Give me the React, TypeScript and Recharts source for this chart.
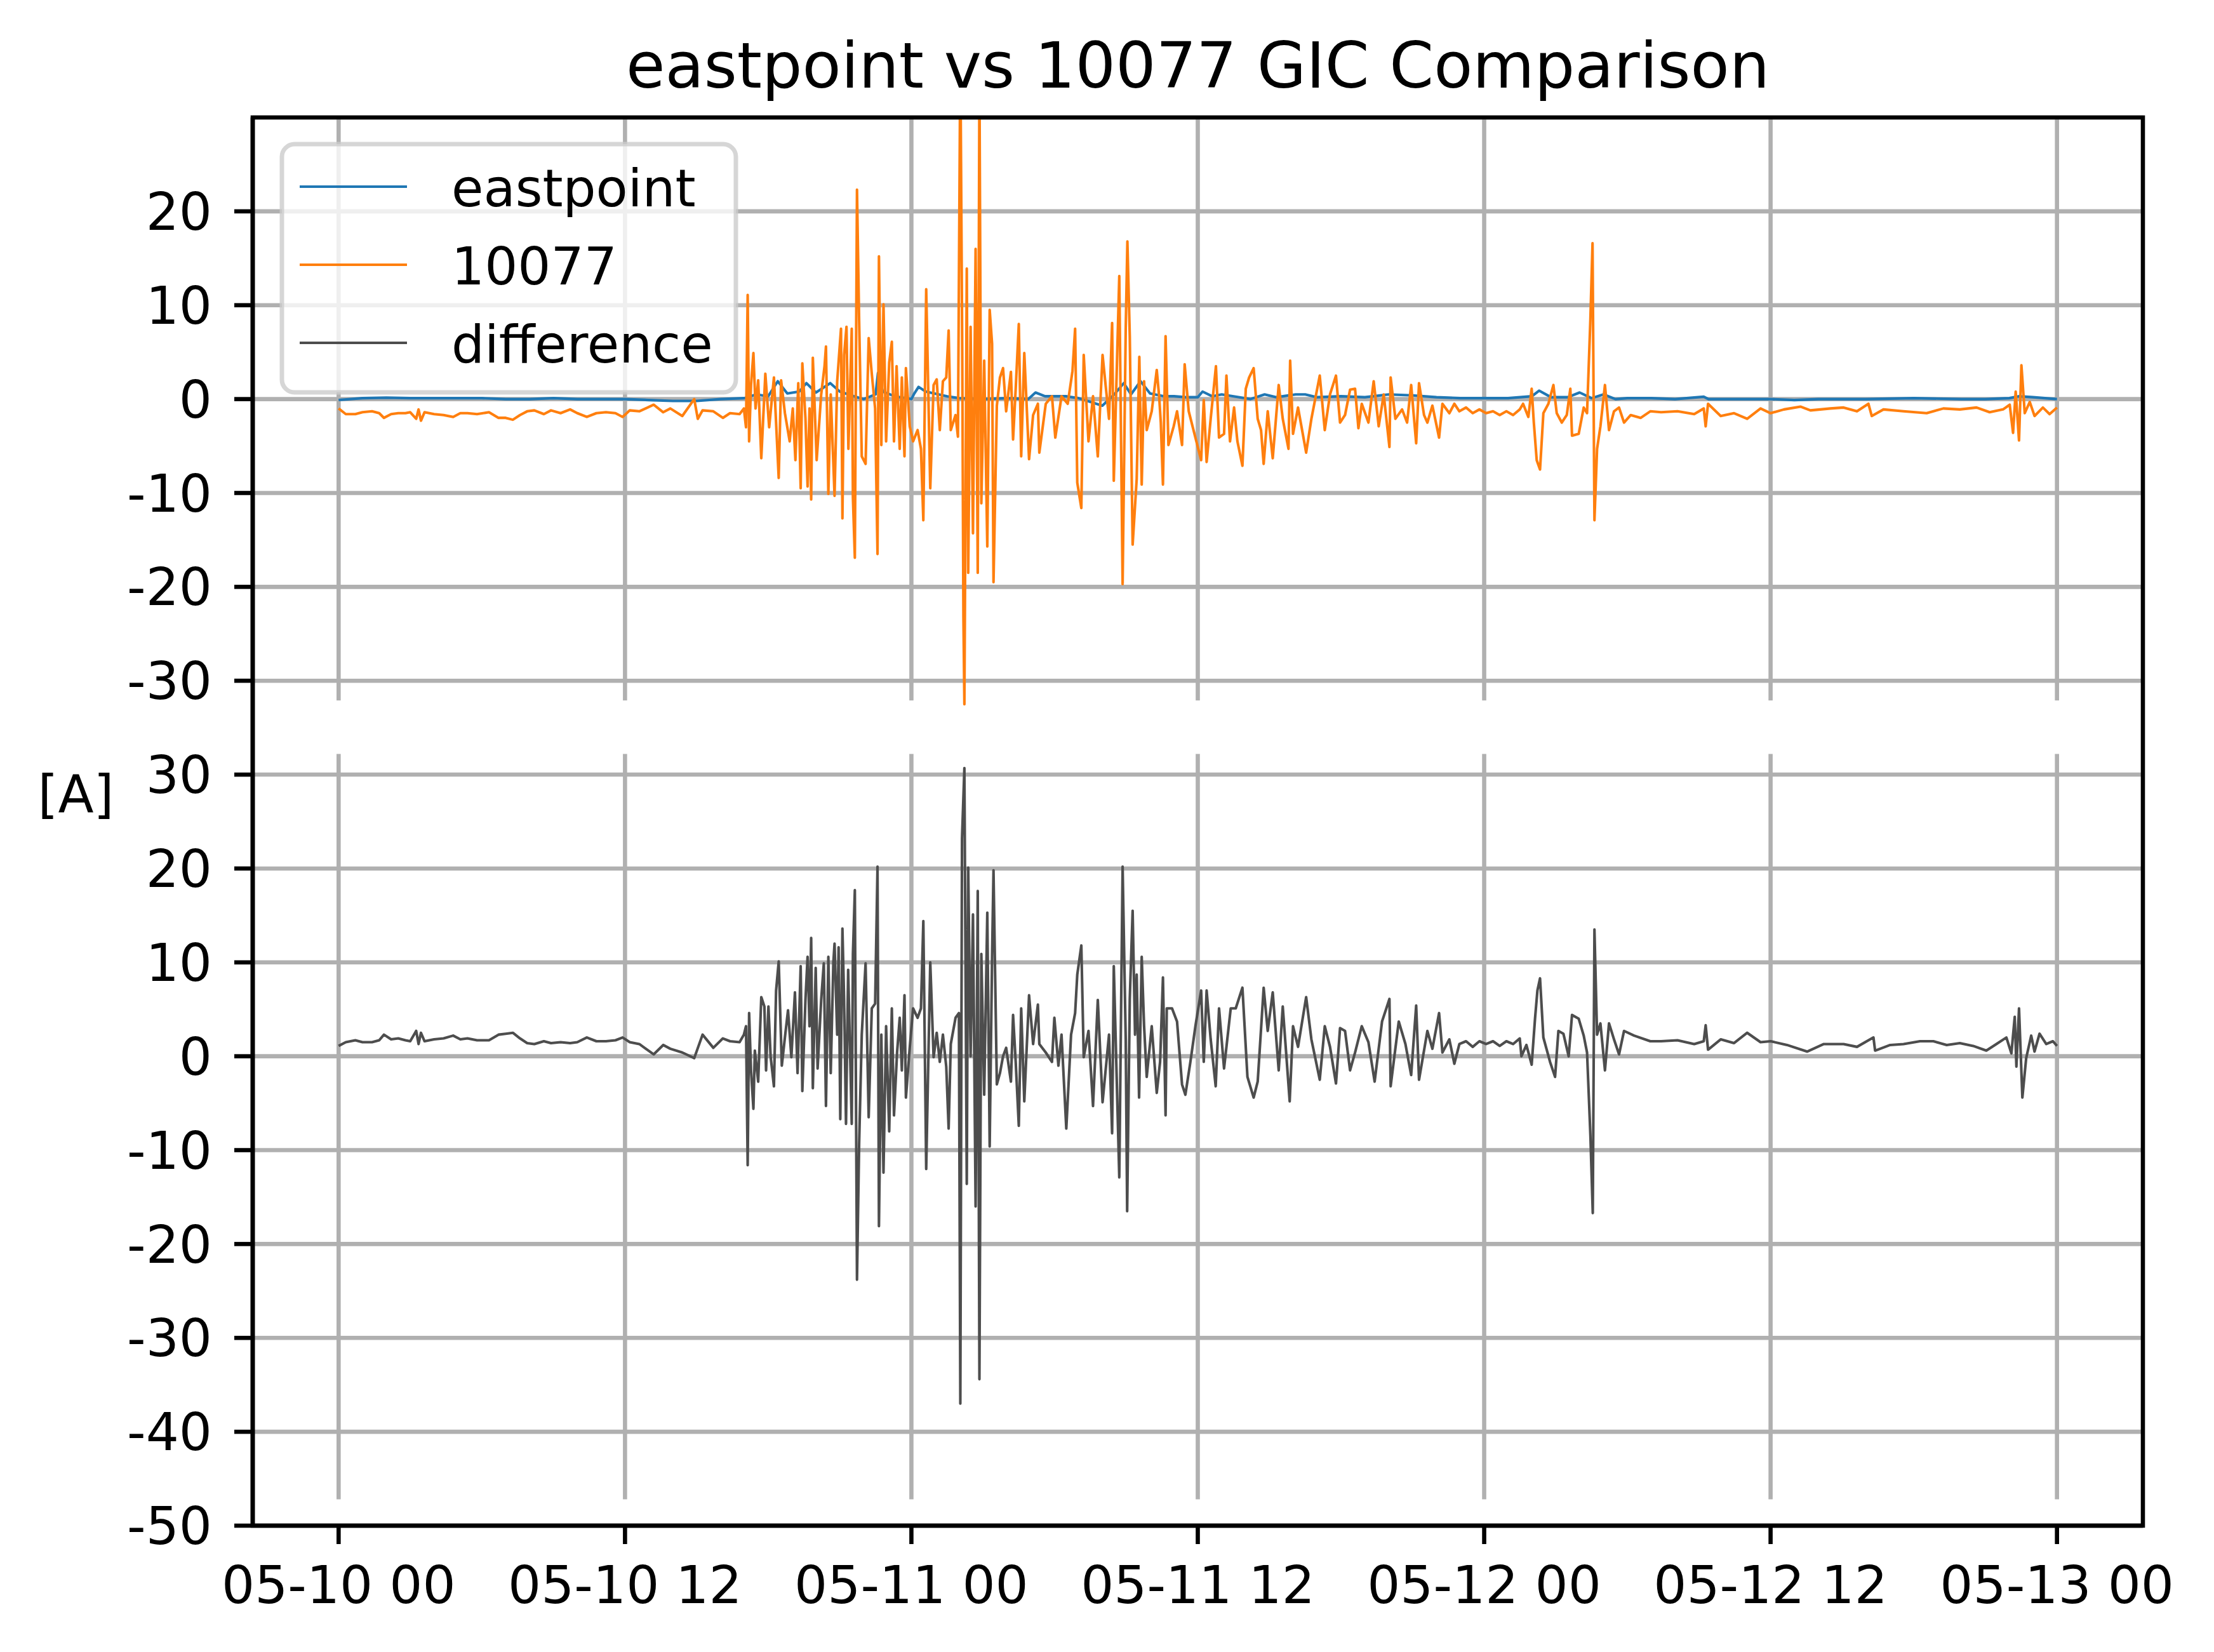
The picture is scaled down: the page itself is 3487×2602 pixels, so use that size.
import React from 'react';
import { LineChart, Line, XAxis, YAxis, CartesianGrid, ReferenceLine, ReferenceArea } from 'recharts';

const FONT = '"DejaVu Sans", sans-serif';

// x = hours since 05-10 00
const xTicks = [0, 12, 24, 36, 48, 60, 72];
const xTickLabels = ['05-10 00', '05-10 12', '05-11 00', '05-11 12', '05-12 00', '05-12 12', '05-13 00'];
// lower panel ticks are shown as-is, upper panel ticks sit 70 A higher
const yTicks = [-50, -40, -30, -20, -10, 0, 10, 20, 30, 40, 50, 60, 70, 80, 90];
const PANEL_SHIFT = 70;

const seriesNames = ['eastpoint', '10077', 'difference'];
const seriesColors = ['#1f77b4', '#ff7f0e', '#4d4d4d'];

// [hour, amps]
const eastpoint: [number, number][] = [
  [0, -0.1], [1, 0.1], [2, 0.15], [3, 0.1], [4, 0.1], [5, 0.1], [6, 0.1], [7, 0.0], [8, 0.0], [9, 0.1],
  [10, 0.0], [11, 0.0], [12, 0.0], [13, -0.1], [14, -0.2], [15, -0.2], [16, 0.0], [17, 0.1], [17.5, 0.5], [18, 0.3],
  [18.4, 1.9], [18.8, 0.6], [19.3, 0.8], [19.6, 1.7], [20, 0.7], [20.6, 1.7], [21, 0.8], [21.6, 0.3], [22, 0.0], [22.5, 0.5],
  [22.6, 2.8], [22.8, 0.8], [23.3, 0.3], [24, 0.0], [24.1, 0.5], [24.3, 1.3], [24.6, 0.8], [25.5, 0.3], [26, 0.1], [27, 0.0],
  [28, 0.1], [28.9, 0.0], [29.2, 0.7], [29.6, 0.3], [30.5, 0.3], [31, 0.1], [31.5, -0.3], [32, -0.7], [32.5, 0.5], [32.9, 1.7],
  [33.2, 0.5], [33.6, 1.9], [34, 0.6], [34.6, 0.3], [35, 0.3], [35.5, 0.2], [36, 0.2], [36.2, 0.8], [36.6, 0.3], [37, 0.5],
  [37.5, 0.3], [38.2, 0.0], [38.8, 0.5], [39.3, 0.2], [40.1, 0.5], [40.5, 0.5], [41, 0.2], [42, 0.3], [43, 0.2], [44, 0.5],
  [45, 0.4], [46, 0.2], [47, 0.1], [48, 0.1], [49, 0.1], [50, 0.3], [50.3, 0.9], [50.8, 0.2], [51.5, 0.2], [52, 0.7],
  [52.5, 0.1], [53, 0.5], [53.5, 0.0], [54, 0.1], [55, 0.1], [56, 0.0], [57.2, 0.25], [57.4, 0.0], [58, 0.0], [60, 0.0],
  [61, -0.1], [62, 0.0], [64, 0.0], [66, 0.1], [68, 0.0], [69, 0.0], [70, 0.1], [70.4, 0.3], [71, 0.2], [72, 0.0],
];

const gic10077: [number, number][] = [
  [0, -1.0], [0.3, -1.6], [0.7, -1.6], [1.0, -1.4], [1.4, -1.3], [1.7, -1.5], [1.9, -2.0], [2.2, -1.6], [2.5, -1.5], [2.8, -1.5],
  [3.0, -1.4], [3.25, -2.1], [3.35, -1.1], [3.45, -2.3], [3.6, -1.4], [4.0, -1.6], [4.4, -1.7], [4.8, -1.9], [5.1, -1.5], [5.4, -1.5],
  [5.8, -1.6], [6.3, -1.4], [6.7, -2.0], [7.0, -2.0], [7.3, -2.2], [7.6, -1.7], [7.9, -1.3], [8.2, -1.2], [8.6, -1.6], [8.9, -1.2],
  [9.3, -1.5], [9.7, -1.1], [10.0, -1.5], [10.4, -1.9], [10.8, -1.5], [11.2, -1.4], [11.6, -1.5], [11.9, -1.9], [12.2, -1.2], [12.6, -1.3],
  [13.2, -0.6], [13.6, -1.4], [13.9, -1.0], [14.4, -1.8], [14.9, 0.0], [15.05, -2.1], [15.25, -1.2], [15.7, -1.3], [16.1, -2.0], [16.4, -1.5],
  [16.8, -1.6], [16.98, -1.0], [17.07, -3.0], [17.14, 11.1], [17.2, -4.5], [17.28, 1.5], [17.38, 4.9], [17.47, -1.0], [17.58, 2.0], [17.71, -6.3],
  [17.88, 2.7], [18.04, -3.0], [18.24, 2.3], [18.44, -8.4], [18.54, 2.0], [18.7, -1.5], [18.9, -4.5], [19.03, -1.0], [19.14, -6.5], [19.26, 1.7],
  [19.36, -9.5], [19.43, 3.8], [19.56, -2.0], [19.65, -9.3], [19.73, -1.0], [19.8, -10.7], [19.87, 4.4], [20.03, -6.5], [20.22, 0.5], [20.36, 3.5],
  [20.42, 5.6], [20.52, -10.1], [20.62, 0.5], [20.78, -10.3], [20.89, 1.9], [21.05, 7.5], [21.11, -12.7], [21.18, 4.7], [21.28, 7.7], [21.36, -5.3],
  [21.5, 7.5], [21.55, -10.5], [21.63, -16.9], [21.72, 22.3], [21.81, 8.3], [21.92, -6.1], [22.08, -6.9], [22.21, 6.5], [22.34, 2.7], [22.48, -1.0],
  [22.58, -16.5], [22.64, 15.2], [22.74, -4.9], [22.83, 10.1], [22.94, -4.5], [23.07, 3.9], [23.18, 6.1], [23.27, -4.5], [23.38, 3.5], [23.51, -5.3],
  [23.6, 2.3], [23.71, -6.1], [23.77, 3.3], [23.93, -2.9], [24.07, -4.5], [24.26, -3.3], [24.4, -5.3], [24.5, -12.9], [24.62, 11.7], [24.79, -9.5],
  [24.93, 1.5], [25.06, 2.1], [25.19, -3.3], [25.32, 1.9], [25.46, 2.3], [25.56, 7.3], [25.65, -3.3], [25.85, -1.7], [25.95, -4.0], [26.05, 37.0],
  [26.13, 5.0], [26.18, -23.3], [26.22, -32.5], [26.32, 13.9], [26.38, -18.5], [26.48, 7.7], [26.58, -14.3], [26.69, 16.0], [26.78, -18.5], [26.85, 34.4],
  [26.93, -11.1], [27.05, 4.1], [27.18, -15.7], [27.28, 9.5], [27.38, 5.9], [27.44, -19.5], [27.58, -0.7], [27.71, 2.3], [27.84, 3.3], [27.97, -1.3],
  [28.17, 2.9], [28.26, -4.3], [28.37, 1.1], [28.5, 8.0], [28.6, -6.1], [28.73, 4.9], [28.93, -6.4], [29.1, -1.7], [29.3, -0.5], [29.36, -5.7],
  [29.63, -0.5], [29.89, 0.3], [30.03, -4.1], [30.29, 0.3], [30.55, -0.5], [30.75, 3.0], [30.86, 7.5], [30.95, -8.9], [31.12, -11.6], [31.22, 4.7],
  [31.42, -4.5], [31.61, 0.3], [31.81, -6.1], [32.01, 4.7], [32.28, -2.1], [32.41, 8.1], [32.48, -8.7], [32.71, 13.1], [32.85, -19.7], [32.98, 7.5],
  [33.05, 16.8], [33.15, 6.7], [33.27, -15.5], [33.44, -8.5], [33.55, 4.5], [33.65, -9.1], [33.75, 1.9], [33.86, -3.3], [34.07, -1.3], [34.28, 3.1],
  [34.38, 0.3], [34.45, -2.5], [34.54, -9.1], [34.65, 6.7], [34.77, -4.9], [34.99, -2.9], [35.13, -1.3], [35.34, -4.9], [35.45, 3.7], [35.62, -1.3],
  [35.9, -4.1], [36.14, -6.5], [36.25, -0.1], [36.37, -6.7], [36.54, -2.1], [36.76, 3.5], [36.89, -4.1], [37.1, -3.7], [37.2, 2.5], [37.35, -4.5],
  [37.52, -0.9], [37.66, -4.5], [37.87, -7.1], [38.01, 1.1], [38.15, 2.3], [38.34, 3.3], [38.51, -2.1], [38.65, -3.3], [38.76, -6.9], [38.93, -1.3],
  [39.14, -6.3], [39.39, 1.5], [39.56, -2.1], [39.8, -5.3], [39.87, 4.1], [39.99, -3.7], [40.2, -0.9], [40.54, -5.7], [40.76, -2.1], [41.11, 2.5],
  [41.32, -3.3], [41.54, 0.5], [41.79, 2.5], [41.96, -2.5], [42.17, -1.7], [42.38, 1.0], [42.59, 1.1], [42.73, -3.1], [42.87, -0.5], [43.15, -2.5],
  [43.37, 1.9], [43.58, -2.9], [43.79, 0.5], [44.03, -5.1], [44.08, 2.3], [44.28, -2.1], [44.56, -1.1], [44.77, -2.5], [44.94, 1.5], [45.15, -4.7],
  [45.27, 1.7], [45.48, -1.7], [45.62, -2.5], [45.83, -0.7], [46.11, -4.1], [46.25, -0.5], [46.54, -1.5], [46.75, -0.5], [46.96, -1.3], [47.24, -0.9],
  [47.52, -1.5], [47.8, -1.1], [48.08, -1.5], [48.37, -1.3], [48.65, -1.7], [48.93, -1.3], [49.21, -1.7], [49.49, -1.1], [49.63, -0.5], [49.85, -1.9],
  [49.99, 1.1], [50.08, -2.5], [50.2, -6.5], [50.34, -7.5], [50.48, -1.5], [50.69, -0.5], [50.9, 1.5], [51.04, -1.5], [51.25, -2.5], [51.46, -1.7],
  [51.61, 1.1], [51.68, -3.9], [51.96, -3.7], [52.17, -0.9], [52.31, -1.5], [52.45, 8.5], [52.54, 16.6], [52.62, -12.9], [52.73, -5.3], [52.87, -2.9],
  [53.06, 1.5], [53.23, -3.3], [53.44, -1.3], [53.65, -0.9], [53.86, -2.5], [54.14, -1.7], [54.56, -2.0], [54.96, -1.3], [55.41, -1.4], [56.1, -1.3],
  [56.8, -1.6], [57.2, -1.0], [57.28, -2.9], [57.38, -0.5], [57.91, -1.8], [58.47, -1.5], [59.02, -2.1], [59.58, -1.0], [60.0, -1.5], [60.56, -1.1],
  [61.25, -0.8], [61.67, -1.2], [62.5, -1.0], [63.06, -0.9], [63.62, -1.3], [64.1, -0.5], [64.24, -1.8], [64.73, -1.1], [65.57, -1.3], [66.54, -1.5],
  [67.24, -1.0], [67.93, -1.1], [68.63, -0.9], [69.18, -1.4], [69.74, -1.1], [70.02, -0.6], [70.16, -3.6], [70.27, 0.8], [70.41, -4.4], [70.51, 3.6],
  [70.65, -1.5], [70.86, -0.3], [71.06, -1.8], [71.41, -0.9], [71.69, -1.6], [72.0, -0.9],
];

const difference: [number, number][] = [
  [0, 1.1], [0.3, 1.5], [0.7, 1.7], [1.0, 1.5], [1.4, 1.5], [1.7, 1.7], [1.9, 2.3], [2.2, 1.8], [2.5, 1.9], [2.8, 1.7],
  [3.0, 1.6], [3.25, 2.7], [3.35, 1.3], [3.45, 2.5], [3.6, 1.6], [4.0, 1.8], [4.4, 1.9], [4.8, 2.2], [5.1, 1.8], [5.4, 1.9],
  [5.8, 1.7], [6.3, 1.7], [6.7, 2.3], [7.0, 2.4], [7.3, 2.5], [7.6, 1.9], [7.9, 1.4], [8.2, 1.3], [8.6, 1.6], [8.9, 1.4],
  [9.3, 1.5], [9.7, 1.4], [10.0, 1.5], [10.4, 2.0], [10.8, 1.6], [11.2, 1.6], [11.6, 1.7], [11.9, 2.0], [12.2, 1.5], [12.6, 1.3],
  [13.2, 0.2], [13.6, 1.2], [13.9, 0.8], [14.4, 0.4], [14.9, -0.2], [15.25, 2.3], [15.7, 0.9], [16.1, 1.9], [16.4, 1.6], [16.8, 1.5],
  [16.98, 2.3], [17.07, 3.2], [17.14, -11.6], [17.2, 4.6], [17.28, -1.5], [17.38, -5.6], [17.44, 0.6], [17.58, -2.7], [17.71, 6.3], [17.84, 5.3],
  [17.91, -1.5], [18.01, 5.3], [18.1, 0.0], [18.24, -3.2], [18.33, 7.0], [18.44, 10.1], [18.57, -1.0], [18.7, 2.0], [18.83, 4.9], [18.97, -0.1],
  [19.12, 6.8], [19.23, -1.8], [19.36, 9.6], [19.43, -3.7], [19.56, 6.0], [19.65, 10.6], [19.73, 3.2], [19.8, 12.6], [19.87, -3.4], [19.99, 9.4],
  [20.07, -1.3], [20.22, 6.0], [20.33, 9.9], [20.42, -5.3], [20.52, 10.6], [20.62, -1.8], [20.73, 10.0], [20.78, 12.0], [20.89, 2.3], [20.95, 11.6],
  [21.02, -6.7], [21.11, 13.6], [21.18, 6.0], [21.26, -7.2], [21.35, 9.2], [21.5, -7.2], [21.55, 10.9], [21.63, 17.7], [21.72, -23.8], [21.81, -9.3],
  [21.92, 2.3], [22.08, 9.9], [22.21, -6.5], [22.34, 5.1], [22.48, 5.6], [22.58, 20.2], [22.64, -18.1], [22.74, 2.3], [22.83, -12.4], [22.94, 3.2],
  [23.07, -8.0], [23.18, 5.1], [23.27, -6.3], [23.4, 0.4], [23.51, 4.1], [23.6, -1.5], [23.71, 6.5], [23.77, -4.4], [23.93, 0.9], [24.07, 5.1],
  [24.26, 4.1], [24.4, 5.1], [24.5, 14.4], [24.62, -12.0], [24.79, 10.0], [24.93, -0.1], [25.06, 2.5], [25.19, -0.6], [25.32, 2.3], [25.46, -1.1],
  [25.56, -7.7], [25.65, 1.3], [25.85, 4.1], [25.99, 4.6], [26.05, -37.0], [26.12, 23.2], [26.22, 30.7], [26.32, -13.6], [26.38, 20.1], [26.48, 0.0],
  [26.58, 15.1], [26.69, -16.0], [26.78, 17.6], [26.85, -34.4], [26.93, 10.9], [27.05, -4.1], [27.18, 15.3], [27.28, -9.6], [27.38, 10.6], [27.44, 19.8],
  [27.58, -3.0], [27.71, -1.8], [27.84, 0.0], [27.97, 0.9], [28.17, -2.7], [28.26, 4.4], [28.37, -0.6], [28.5, -7.4], [28.6, 5.1], [28.73, -4.8],
  [28.93, 6.5], [29.1, 1.3], [29.3, 5.5], [29.36, 1.3], [29.63, 0.4], [29.89, -0.6], [29.99, 4.1], [30.16, -1.0], [30.29, 2.3], [30.49, -7.7],
  [30.69, 2.3], [30.86, 4.6], [30.95, 8.7], [31.12, 11.8], [31.22, -0.1], [31.42, 2.7], [31.61, -5.3], [31.81, 6.0], [32.01, -4.9], [32.28, 2.3],
  [32.41, -8.2], [32.48, 9.6], [32.71, -12.9], [32.85, 20.2], [32.98, 1.8], [33.04, -16.5], [33.15, 6.1], [33.27, 15.5], [33.37, 2.3], [33.44, 8.7],
  [33.54, -4.4], [33.65, 10.6], [33.75, 3.2], [33.86, -2.2], [34.07, 3.2], [34.28, -3.9], [34.42, -0.6], [34.54, 8.4], [34.65, -6.3], [34.7, 5.1],
  [34.92, 5.1], [35.13, 3.7], [35.34, -3.0], [35.48, -4.1], [35.69, -0.6], [35.9, 3.2], [36.14, 7.0], [36.25, -0.6], [36.37, 7.0], [36.54, 1.8],
  [36.75, -3.2], [36.89, 5.1], [37.1, -1.3], [37.38, 5.1], [37.59, 5.1], [37.87, 7.3], [38.08, -2.2], [38.34, -4.4], [38.51, -2.7], [38.76, 7.3],
  [38.93, 2.7], [39.14, 6.8], [39.39, -1.5], [39.56, 5.3], [39.85, -4.8], [39.99, 3.2], [40.2, 1.0], [40.54, 6.3], [40.76, 1.8], [41.11, -2.5],
  [41.32, 3.2], [41.54, 1.0], [41.79, -2.9], [41.96, 3.0], [42.17, 2.7], [42.38, -1.5], [42.59, 0.4], [42.87, 3.2], [43.15, 1.5], [43.41, -2.7],
  [43.72, 3.7], [44.03, 6.1], [44.08, -3.2], [44.42, 3.7], [44.7, 1.3], [44.94, -2.0], [45.15, 5.4], [45.27, -2.5], [45.62, 2.7], [45.83, 0.8],
  [46.11, 4.6], [46.25, 0.4], [46.54, 1.8], [46.75, -0.8], [46.96, 1.3], [47.24, 1.6], [47.52, 1.0], [47.8, 1.6], [48.08, 1.3], [48.37, 1.6],
  [48.65, 1.1], [48.93, 1.6], [49.21, 1.3], [49.49, 1.9], [49.56, 0.0], [49.77, 1.2], [49.99, -0.9], [50.13, 4.0], [50.23, 7.0], [50.34, 8.3],
  [50.48, 2.0], [50.76, -0.6], [50.97, -2.2], [51.11, 2.7], [51.32, 2.4], [51.54, 0.0], [51.68, 4.4], [51.96, 4.0], [52.17, 2.2], [52.31, 0.4],
  [52.45, -8.4], [52.55, -16.7], [52.62, 13.5], [52.73, 2.3], [52.87, 3.5], [53.06, -1.5], [53.23, 3.5], [53.44, 1.8], [53.65, 0.2], [53.86, 2.7],
  [54.28, 2.2], [54.96, 1.6], [55.41, 1.6], [56.1, 1.7], [56.8, 1.3], [57.2, 1.6], [57.28, 3.3], [57.38, 0.7], [57.91, 1.8], [58.47, 1.4],
  [59.02, 2.5], [59.58, 1.5], [60.0, 1.6], [60.69, 1.2], [61.53, 0.5], [62.23, 1.3], [63.06, 1.3], [63.62, 1.0], [64.31, 2.0], [64.38, 0.6],
  [65.01, 1.2], [65.57, 1.3], [66.26, 1.6], [66.82, 1.6], [67.38, 1.2], [67.93, 1.4], [68.49, 1.1], [69.04, 0.6], [69.46, 1.3], [69.88, 2.0],
  [70.09, 0.3], [70.23, 4.2], [70.3, -1.1], [70.41, 5.1], [70.55, -4.4], [70.71, -0.2], [70.92, 2.2], [71.06, 0.5], [71.27, 2.4], [71.55, 1.3],
  [71.83, 1.6], [72.0, 1.1],
];

const toRows = (pts: [number, number][]) => pts.map(([h, a]) => ({ h, a }));

const W = 3487;
const H = 2602;
const LW = 4.1;
const GRID = '#b0b0b0';
const GRID_W = 6.6;
// vertical grid segments (in lower-panel units), one for each panel
const gridSpans: [number, number][] = [[37.9, 100], [-47.2, 32.2]];

const tickStyle = { fontSize: 82, fill: '#000', fontFamily: FONT };

export default function App() {
  const eastRows = toRows(eastpoint);
  const gicRows = toRows(gic10077);
  const diffRows = toRows(difference);

  return (
    <div style={{ position: 'relative', width: W, height: H, background: '#fff', fontFamily: FONT }}>
      <style>{'body{margin:0;background:#fff}'}</style>
      <LineChart width={W} height={H} margin={{ top: 185, right: 112, bottom: 0, left: 0 }}>
        <CartesianGrid vertical={false} stroke={GRID} strokeWidth={GRID_W} />
        {xTicks.map((t) =>
          gridSpans.map(([lo, hi], k) => (
            <ReferenceLine
              key={`vg-${t}-${k}`}
              segment={[{ x: t, y: lo }, { x: t, y: hi }]}
              stroke={GRID}
              strokeWidth={GRID_W}
              ifOverflow="visible"
              zIndex={-50}
            />
          ))
        )}
        <XAxis
          dataKey="h"
          type="number"
          domain={[-3.6, 75.6]}
          allowDataOverflow
          ticks={xTicks}
          interval={0}
          tickFormatter={(v: number) => xTickLabels[xTicks.indexOf(v)] ?? ''}
          height={199}
          tickSize={29}
          tickMargin={35}
          tick={tickStyle}
          tickLine={{ stroke: '#000', strokeWidth: GRID_W }}
          axisLine={{ stroke: '#000', strokeWidth: GRID_W }}
        />
        <YAxis
          type="number"
          domain={[-50, 100]}
          allowDataOverflow
          ticks={yTicks}
          interval={0}
          tickFormatter={(v: number) => String(v > 35 ? v - PANEL_SHIFT : v)}
          width={398}
          tickSize={29}
          tickMargin={35}
          tick={tickStyle}
          tickLine={{ stroke: '#000', strokeWidth: GRID_W }}
          axisLine={{ stroke: '#000', strokeWidth: GRID_W }}
        />
        <YAxis yAxisId="top" type="number" hide domain={[-50 - PANEL_SHIFT, 100 - PANEL_SHIFT]} allowDataOverflow />
        <Line
          data={eastRows}
          dataKey="a"
          yAxisId="top"
          stroke={seriesColors[0]}
          strokeWidth={LW}
          strokeLinejoin="round"
          dot={false}
          activeDot={false}
          isAnimationActive={false}
        />
        <Line
          data={gicRows}
          dataKey="a"
          yAxisId="top"
          stroke={seriesColors[1]}
          strokeWidth={LW}
          strokeLinejoin="round"
          dot={false}
          activeDot={false}
          isAnimationActive={false}
        />
        <Line
          data={diffRows}
          dataKey="a"
          stroke={seriesColors[2]}
          strokeWidth={LW}
          strokeLinejoin="round"
          dot={false}
          activeDot={false}
          isAnimationActive={false}
        />
        <ReferenceArea
          x1={-3.6}
          x2={75.6}
          y1={-50}
          y2={100}
          fill="none"
          fillOpacity={0}
          stroke="#000"
          strokeWidth={GRID_W}
          ifOverflow="visible"
          zIndex={1500}
        />
      </LineChart>

      <svg width={W} height={H} style={{ position: 'absolute', left: 0, top: 0, pointerEvents: 'none' }}>
        <text x={1886.5} y={138} fontSize={100} textAnchor="middle" fontFamily={FONT} fill="#000">
          eastpoint vs 10077 GIC Comparison
        </text>
        <text x={119.5} y={1279} fontSize={82} textAnchor="middle" fontFamily={FONT} fill="#000">
          [A]
        </text>
        <rect x={444} y={227} width={715} height={391} rx={20} ry={20} fill="#fff" fillOpacity={0.8} stroke="#cccccc" strokeOpacity={0.8} strokeWidth={7} />
        {seriesNames.map((name, i) => (
          <g key={name}>
            <line x1={472} x2={641} y1={294 + i * 123} y2={294 + i * 123} stroke={seriesColors[i]} strokeWidth={LW} />
            <text x={711} y={325 + i * 123} fontSize={82} fontFamily={FONT} fill="#000">
              {name}
            </text>
          </g>
        ))}
      </svg>
    </div>
  );
}
